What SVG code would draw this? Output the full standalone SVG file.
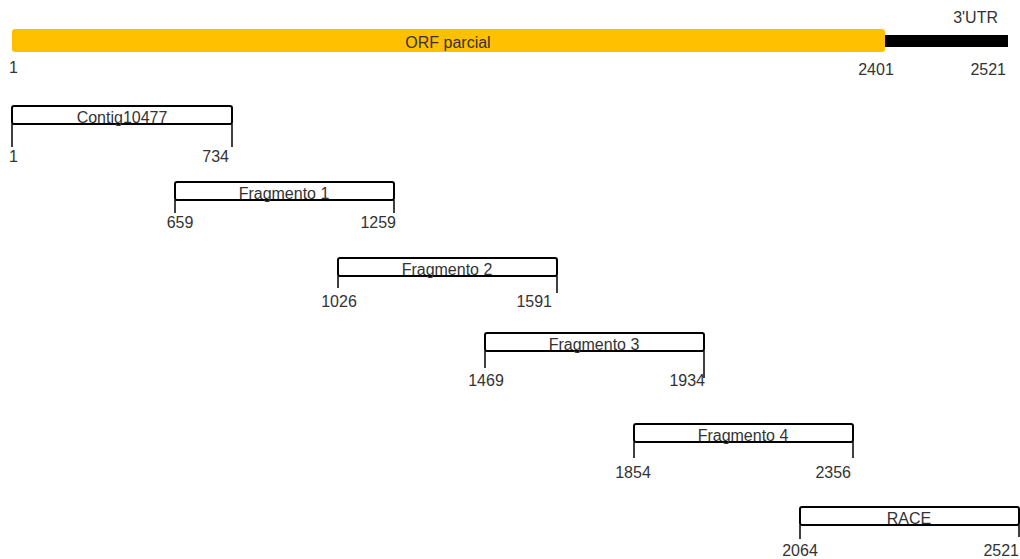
<svg xmlns="http://www.w3.org/2000/svg" width="1020" height="559" viewBox="0 0 1020 559">
  <style>
    .lbl { font-family: "Liberation Sans", Arial, sans-serif; font-size: 16px; fill: #333333; }
    .mid { text-anchor: middle; }
    .end { text-anchor: end; }
    .box { fill: #ffffff; stroke: #000000; stroke-width: 2; }
    .tick { stroke: #000000; stroke-width: 1.5; fill: none; }
  </style>
  <rect width="1020" height="559" fill="#ffffff"/>

  <!-- transcript: partial ORF + 3' UTR -->
  <g id="transcript">
    <rect x="884" y="35" width="124" height="12" fill="#000000"/>
    <rect x="12" y="29" width="873" height="23" rx="3" fill="#ffc000"/>
    <text class="lbl mid" x="448" y="48">ORF parcial</text>
    <text class="lbl end" x="998" y="23">3'UTR</text>
    <text class="lbl" x="9" y="73">1</text>
    <text class="lbl mid" x="876" y="75">2401</text>
    <text class="lbl end" x="1006" y="75">2521</text>
  </g>

  <!-- position ticks below each segment -->
  <g id="connectors">
    <line class="tick" x1="12" y1="124" x2="12" y2="147"/>
    <line class="tick" x1="232" y1="124" x2="232" y2="147"/>
    <line class="tick" x1="175" y1="200" x2="175" y2="213"/>
    <line class="tick" x1="394" y1="200" x2="394" y2="213"/>
    <line class="tick" x1="338" y1="276" x2="338" y2="288"/>
    <line class="tick" x1="557" y1="276" x2="557" y2="293"/>
    <line class="tick" x1="485" y1="351" x2="485" y2="368"/>
    <line class="tick" x1="704" y1="351" x2="704" y2="378"/>
    <line class="tick" x1="634" y1="442" x2="634" y2="458"/>
    <line class="tick" x1="853" y1="442" x2="853" y2="458"/>
    <line class="tick" x1="800" y1="525" x2="800" y2="539"/>
    <line class="tick" x1="1019" y1="525" x2="1019" y2="537"/>
  </g>

  <g id="contig10477">
    <rect class="box" x="12" y="106" width="220" height="18" rx="2"/>
    <text class="lbl mid" x="122" y="123">Contig10477</text>
    <text class="lbl" x="9" y="162">1</text>
    <text class="lbl end" x="229" y="162">734</text>
  </g>

  <g id="fragmento1">
    <rect class="box" x="175" y="182" width="219" height="18" rx="2"/>
    <text class="lbl mid" x="284" y="199">Fragmento 1</text>
    <text class="lbl mid" x="180" y="228">659</text>
    <text class="lbl end" x="396" y="228">1259</text>
  </g>

  <g id="fragmento2">
    <rect class="box" x="338" y="258" width="219" height="18" rx="2"/>
    <text class="lbl mid" x="447" y="275">Fragmento 2</text>
    <text class="lbl mid" x="339" y="307">1026</text>
    <text class="lbl end" x="552" y="307">1591</text>
  </g>

  <g id="fragmento3">
    <rect class="box" x="485" y="333" width="219" height="18" rx="2"/>
    <text class="lbl mid" x="594" y="350">Fragmento 3</text>
    <text class="lbl mid" x="486" y="386">1469</text>
    <text class="lbl end" x="705" y="386">1934</text>
  </g>

  <g id="fragmento4">
    <rect class="box" x="634" y="424" width="219" height="18" rx="2"/>
    <text class="lbl mid" x="743" y="441">Fragmento 4</text>
    <text class="lbl mid" x="633" y="478">1854</text>
    <text class="lbl end" x="851" y="478">2356</text>
  </g>

  <g id="race">
    <rect class="box" x="800" y="507" width="219" height="18" rx="2"/>
    <text class="lbl mid" x="909" y="524">RACE</text>
    <text class="lbl mid" x="800" y="556">2064</text>
    <text class="lbl end" x="1019" y="556">2521</text>
  </g>
</svg>
